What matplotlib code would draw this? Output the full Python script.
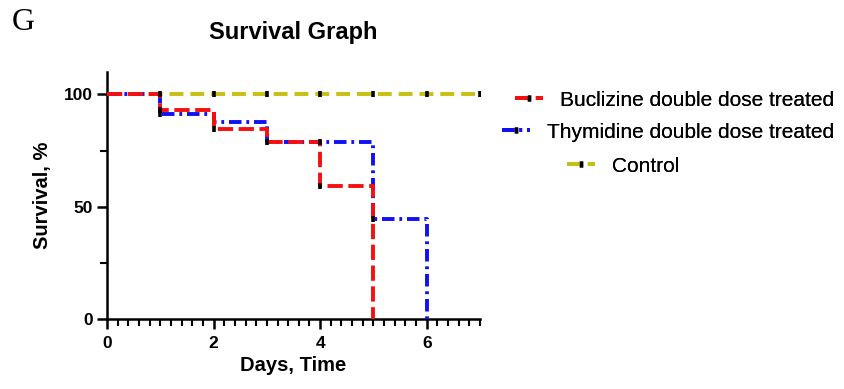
import matplotlib
matplotlib.use("Agg")
import matplotlib.pyplot as plt
from matplotlib.lines import Line2D
from matplotlib.ticker import MultipleLocator

plt.rcParams['font.family'] = ['Liberation Sans', 'DejaVu Sans']
plt.rcParams['lines.scale_dashes'] = False

# Kaplan-Meier step data (days, survival %)
buc_days = [0, 1, 2, 3, 4, 5, 5]
buc_surv = [100, 93.2, 84.7, 78.8, 59.3, 0, 0]
thy_days = [0, 1, 2, 3, 5, 6, 6]
thy_surv = [100, 91.4, 87.7, 78.8, 44.7, 0, 0]
ctl_days = [0, 7]
ctl_surv = [100, 100]

# censor marks
buc_cx = [1, 2, 3, 4, 4]
buc_cy = [93.2, 84.7, 78.8, 78.8, 59.3]
thy_cx = [1, 5]
thy_cy = [91.4, 44.7]
ctl_cx = [1, 2, 3, 4, 5, 6, 7]
ctl_cy = [100, 100, 100, 100, 100, 100, 100]

labels = ["Buclizine double dose treated", "Thymidine double dose treated", "Control"]
red = "#f51010"
blue = "#1010f5"
yellow = "#c8c010"

fig = plt.figure(figsize=(8.44, 3.89), dpi=100)
ax = fig.add_axes([107/844, 1-319/389, 373/844, 247/389])

dash_r = (0, (11, 4))
dash_b = (0, (9, 3.5, 2, 3.5))
dash_y = (0, (10, 5))

ax.step(ctl_days, ctl_surv, where='post', color=yellow, lw=2.8, ls=dash_y, zorder=2)
ax.step(thy_days, thy_surv, where='post', color=blue, lw=2.8, ls=dash_b, zorder=3)
ax.step(buc_days, buc_surv, where='post', color=red, lw=2.8, ls=dash_r, zorder=4)

mk = dict(ls='none', marker='|', color='black', ms=5, mew=2.6, zorder=5)
ax.plot(ctl_cx, ctl_cy, **mk)
ax.plot(buc_cx, buc_cy, **mk)
ax.plot(thy_cx, thy_cy, **mk)

ax.set_xlim(0, 7)
ax.set_ylim(0, 110)
for s in ['top', 'right']:
    ax.spines[s].set_visible(False)
for s in ['left', 'bottom']:
    ax.spines[s].set_linewidth(1.8)
ax.set_xticks([0, 2, 4, 6])
ax.set_yticks([0, 50, 100])
ax.xaxis.set_minor_locator(MultipleLocator(0.2))
ax.yaxis.set_minor_locator(MultipleLocator(25))
ax.tick_params(which='major', length=7, width=1.8, labelsize=12.5, pad=3)
ax.tick_params(axis='x', which='major', pad=5)
ax.tick_params(which='minor', length=5, width=1.5)
for t in ax.get_xticklabels() + ax.get_yticklabels():
    t.set_fontweight('bold')
ax.set_xlabel("Days, Time", fontsize=14.5, fontweight='bold', labelpad=4)
ax.set_ylabel("Survival, %", fontsize=14.5, fontweight='bold', labelpad=9)

fig.text(293/844, 1-33/389, "Survival Graph", ha='center', va='center',
         fontsize=17, fontweight='bold')
fig.text(12/844, 1-23/389, "G", ha='left', va='center', fontsize=23,
         family='Liberation Serif')

handles = [
    Line2D([], [], color=red, lw=2.8, ls=dash_r, marker='|', mec='black', ms=4, mew=2.5),
    Line2D([], [], color=blue, lw=2.8, ls=dash_b, marker='|', mec='black', ms=4, mew=2.5),
    Line2D([], [], color=yellow, lw=2.8, ls=dash_y, marker='|', mec='black', ms=4, mew=2.5),
]
pos = [(515, 100), (502, 132), (567, 166)]
for h, lab, (px, py) in zip(handles, labels, pos):
    lg = fig.legend([h], [lab], loc='center left', bbox_to_anchor=(px/844, 1-py/389),
                    frameon=False, fontsize=15, handlelength=1.35, handletextpad=0.8,
                    borderpad=0, borderaxespad=0)
    fig.add_artist(lg)

fig.savefig("out.png", dpi=100)
